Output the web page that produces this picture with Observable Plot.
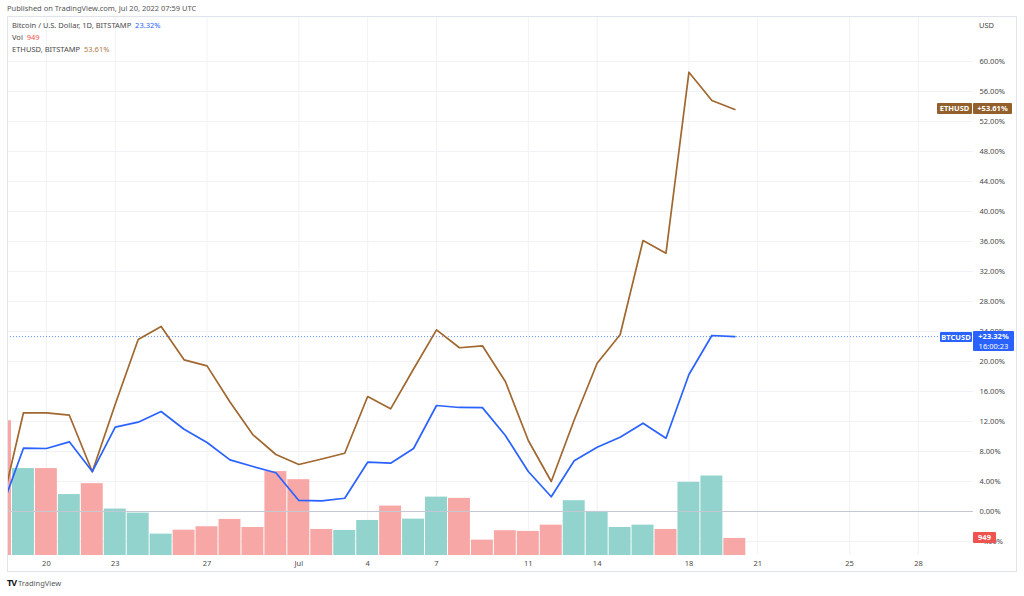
<!DOCTYPE html>
<html><head><meta charset="utf-8">
<script src="https://cdn.jsdelivr.net/npm/d3@7"></script>
<script src="https://cdn.jsdelivr.net/npm/@observablehq/plot@0.6"></script>
<style>
body{margin:0;background:#fff;font-family:"Noto Sans",sans-serif;}
#wrap{position:relative;width:1024px;height:596px;overflow:hidden;background:#fff;}
#wrap svg{position:absolute;left:0;top:0;}
.abs{position:absolute;white-space:nowrap;font-size:7.5px;line-height:1;}
.tag{position:absolute;color:#fff;font-weight:bold;font-size:7.5px;text-align:center;border-radius:1px;}
</style></head><body><div id="wrap"></div>
<script>
// ---- data ----
const dates = ["2022-06-18","2022-06-19","2022-06-20","2022-06-21","2022-06-22","2022-06-23","2022-06-24","2022-06-25","2022-06-26","2022-06-27","2022-06-28","2022-06-29","2022-06-30",
  "2022-07-01","2022-07-02","2022-07-03","2022-07-04","2022-07-05","2022-07-06","2022-07-07","2022-07-08","2022-07-09","2022-07-10","2022-07-11","2022-07-12","2022-07-13","2022-07-14","2022-07-15","2022-07-16","2022-07-17","2022-07-18","2022-07-19","2022-07-20"];
const btcPct = [0, 8.44, 8.40, 9.29, 5.33, 11.24, 11.91, 13.33, 10.97, 9.20, 6.89, 6.00, 5.16,
  1.47, 1.42, 1.77, 6.57, 6.44, 8.40, 14.13, 13.87, 13.85, 10.13, 5.33, 1.96, 6.76, 8.57, 9.91, 11.77, 9.77, 18.27, 23.47, 23.32];
const ethPct = [0, 13.16, 13.16, 12.84, 5.3, 14.3, 22.93, 24.67, 20.22, 19.42, 14.6, 10.23, 7.6,
  6.27, 7.0, 7.77, 15.33, 13.69, 19.0, 24.22, 21.83, 22.09, 17.33, 9.47, 4.0, 12.2, 19.77, 23.56, 36.13, 34.44, 58.57, 54.8, 53.61];
const volume = [7500, 4840, 4840, 3390, 4000, 2585, 2360, 1190, 1410, 1600, 2010, 1560, 4670,
  4220, 1450, 1395, 1950, 2750, 2025, 3250, 3180, 855, 1380, 1340, 1690, 3050, 2455, 1560, 1690, 1450, 4070, 4425, 949];
const volDir = ["down","up","down","up","down","up","up","up","down","down","down","down","down",
  "down","down","up","up","down","up","up","down","down","down","down","down","up","up","up","up","down","up","up","down"];
const xTickDates = ["2022-06-20","2022-06-23","2022-06-27","2022-07-01","2022-07-04","2022-07-07","2022-07-11","2022-07-14","2022-07-18","2022-07-21","2022-07-25","2022-07-28"];
const xTickLabels = ["20","23","27","Jul","4","7","11","14","18","21","25","28"];
const yTicks = [-4,0,4,8,12,16,20,24,28,32,36,40,44,48,52,56,60];
const btcLast = 23.32, ethLast = 53.61, volLast = 949;

// ---- build ----
const DAY = 864e5;
const parse = d3.utcParse("%Y-%m-%d");
const t0 = parse(dates[0]);
const rows = dates.map((d,i)=>({date: parse(d), btc: btcPct[i], eth: ethPct[i], vol: volume[i], dir: volDir[i]}));
const tickDates = xTickDates.map(parse);
const tickLabel = new Map(tickDates.map((d,i)=>[+d, xTickLabels[i]]));
const Y_MIN = -5.867, Y_MAX = 66.0;
const volToPct = d3.scaleLinear([0, 30000], [Y_MIN, Y_MAX]);
const xDomain = [new Date(+t0 + 0.305*DAY), new Date(+t0 + 42.40*DAY)];
const BLUE = "#2962ff", BROWN = "#a0672f", TEAL = "#92d3cd", RED = "#f7a8a6", GRID = "#f0f2f7";

const plot = Plot.plot({
  width: 1024, height: 596,
  marginLeft: 7, marginRight: 51, marginTop: 16, marginBottom: 41,
  style: {fontFamily: "'Noto Sans', sans-serif", fontSize: "7.5px", color: "#4a4a4a", background: "transparent", overflow: "visible"},
  x: {type: "utc", domain: xDomain},
  y: {domain: [Y_MIN, Y_MAX]},
  color: {domain: ["up","down"], range: [TEAL, RED]},
  marks: [
    Plot.gridX(tickDates, {stroke: GRID, strokeOpacity: 1}),
    Plot.gridY(yTicks, {stroke: GRID, strokeOpacity: 1}),
    Plot.rect(rows, {x1: d => new Date(+d.date - DAY/2), x2: d => new Date(+d.date + DAY/2),
      y1: d => Y_MIN, y2: d => volToPct(d.vol), fill: "dir", insetLeft: 0.5, insetRight: 0.5, clip: true}),
    Plot.ruleY([0], {stroke: "#c5c8d2", strokeWidth: 1}),
    Plot.ruleY([btcLast], {stroke: BLUE, strokeDasharray: "1,2", strokeOpacity: 0.7}),
    Plot.line(rows, {x: "date", y: "eth", stroke: BROWN, strokeWidth: 1.7, clip: true}),
    Plot.line(rows, {x: "date", y: "btc", stroke: BLUE, strokeWidth: 1.7, clip: true}),
    Plot.axisY(yTicks, {anchor: "right", tickSize: 0, tickPadding: 6, tickFormat: d => d.toFixed(2) + "%", fill: "#4a4a4a"}),
    Plot.axisX(tickDates, {anchor: "bottom", tickSize: 0, tickPadding: 5, tickFormat: d => tickLabel.get(+d), fill: "#4a4a4a"})
  ]
});
const wrap = document.getElementById("wrap");
wrap.appendChild(plot);

const ys = plot.scale("y");
function el(cls, txt, css){const e=document.createElement("div");e.className=cls;e.innerHTML=txt;Object.assign(e.style,css);wrap.appendChild(e);return e;}

// frame
el("abs","",{left:"7px",top:"16px",width:"1010px",height:"556px",border:"1px solid #e0e3eb",boxSizing:"border-box"});
// header text
el("abs","Published on TradingView.com, Jul 20, 2022 07:59 UTC",{left:"7px",top:"5px",color:"#555"});
el("abs",`Bitcoin / U.S. Dollar, 1D, BITSTAMP&nbsp;&nbsp;<span style="color:${BLUE}">23.32%</span>`,{left:"12px",top:"22px",color:"#4a4a4a"});
el("abs",`Vol&nbsp;&nbsp;<span style="color:#ef5350">949</span>`,{left:"12px",top:"34px",color:"#4a4a4a"});
el("abs",`ETHUSD, BITSTAMP&nbsp;&nbsp;<span style="color:#b07a45">53.61%</span>`,{left:"12px",top:"46px",color:"#4a4a4a"});
el("abs","USD",{left:"979px",top:"22px",color:"#4a4a4a"});
// footer logo
el("abs",`<b style="color:#131722;font-size:9px;letter-spacing:-1px">TV</b>&nbsp;<span style="color:#555">TradingView</span>`,{left:"7px",top:"578px"});

// right-side tags
const yE = ys.apply(ethLast), yB = ys.apply(btcLast), yV = ys.apply(volToPct(volLast));
const TAGB = "#93602c";
el("tag","ETHUSD",{left:"937px",top:(yE-5.5)+"px",width:"35px",height:"11px",lineHeight:"11px",background:TAGB});
el("tag","+53.61%",{left:"973px",top:(yE-5.5)+"px",width:"39px",height:"11px",lineHeight:"11px",background:TAGB});
el("tag","BTCUSD",{left:"940px",top:(yB-4.5)+"px",width:"32px",height:"10px",lineHeight:"10px",background:BLUE});
el("tag",`+23.32%<br><span style="font-weight:normal">16:00:23</span>`,{left:"973px",top:(yB-5)+"px",width:"41px",height:"20px",lineHeight:"10px",background:BLUE});
el("tag","949",{left:"973px",top:(yV-5.5)+"px",width:"23px",height:"11px",lineHeight:"11px",background:"#ef5350"});
</script></body></html>
